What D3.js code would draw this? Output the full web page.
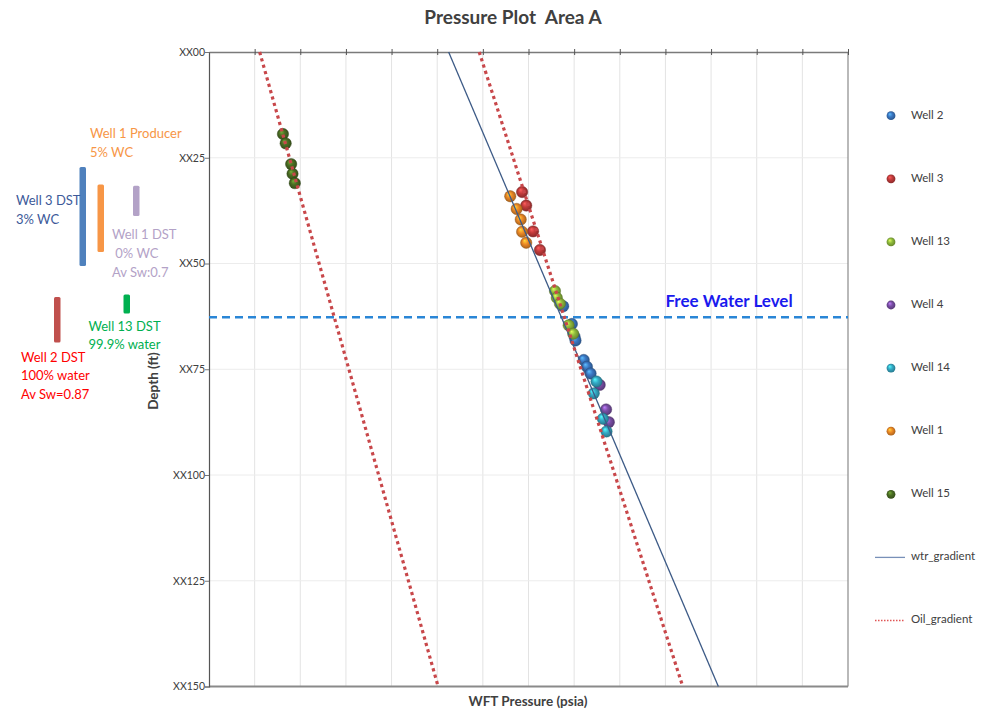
<!DOCTYPE html>
<html lang="en">

<head>
    <meta charset="UTF-8">
    <meta name="viewport" content="width=device-width, initial-scale=1.0">
    <title>Pressure Plot Area A</title>
    <style>
        * {
            margin: 0;
            padding: 0;
        }

        body {
            background: #fff;
        }

        text {
            font-family: Lato, 'Open Sans', sans-serif;
        }
    </style>
</head>

<body>
    <div id="chart"></div>
    <script src="https://cdn.jsdelivr.net/npm/d3@7"></script>
    <script>
        // [pressure, depth] - pressure is relative (no tick labels on the plot), depth in ft below XX00
        const well2 = [[77.6, 60.1], [79.5, 64.3], [80.1, 67.3], [80.3, 68.2], [82.1, 72.8], [82.8, 74.4], [83.6, 76.0]]
        const well3 = [[68.6, 33.1], [69.5, 36.3], [71.0, 42.4], [72.5, 46.8]]
        const well13 = [[75.8, 56.5], [76.2, 58.1], [76.9, 59.5], [78.8, 64.6], [79.8, 66.6]]
        const well4 = [[85.6, 78.7], [87.0, 84.5], [87.6, 87.5]]
        const well14 = [[84.9, 77.9], [84.3, 80.7], [86.3, 86.7], [87.1, 89.7]]
        const well1 = [[66.0, 34.1], [67.4, 37.1], [68.3, 39.6], [68.6, 42.5], [69.5, 45.1]]
        const well15 = [[16.2, 19.4], [16.8, 21.6], [18.0, 26.5], [18.3, 28.8], [18.8, 31.0]]

        const wellNames = ['Well 2', 'Well 3', 'Well 13', 'Well 4', 'Well 14', 'Well 1', 'Well 15']
        const wellData = [well2, well3, well13, well4, well14, well1, well15]

        // gradient lines, [pressure, depth] end points
        const wtrGradient = [[52.5, 0], [111.6, 150]]
        const oilGradientShallow = [[11.1, 0], [50.2, 150]]
        const oilGradientDeep = [[59.2, 0], [103.8, 150]]

        const freeWaterLevel = 62.7

        // DST / production test intervals (depth top, depth bottom)
        const testNames = ['Well 3 DST', 'Well 1 Producer', 'Well 1 DST', 'Well 2 DST', 'Well 13 DST']
        const testTops = [27.2, 31.3, 31.6, 57.9, 57.3]
        const testBottoms = [50.6, 47.3, 38.8, 68.7, 61.8]
        const testNotes = [
            ['Well 3 DST', '3% WC'],
            ['Well 1 Producer', '5% WC'],
            ['Well 1 DST', ' 0% WC', 'Av Sw:0.7'],
            ['Well 2 DST', '100% water', 'Av Sw=0.87'],
            ['Well 13 DST', '99.9% water']
        ]

        const depthTicks = [0, 25, 50, 75, 100, 125, 150]

        function drawChart() {
            const width = 983
            const height = 711
            const margin = {
                top: 52,
                right: 135,
                bottom: 24.5,
                left: 209
            }

            const wellColors = ['#3b78c4', '#c23b3b', '#8fbb3c', '#7a4fa6', '#35aac6', '#ee8a26', '#4b6e23']
            const testColors = ['#4f81bd', '#f79646', '#b3a2c7', '#c0504d', '#00b050']
            const noteColors = ['#3d5a99', '#f79646', '#b3a2c7', '#ff0000', '#00b050']

            const svg = d3.select('#chart')
                .append('svg')
                .attr('width', width)
                .attr('height', height)
                .style('background', '#fff')

            const xScale = d3.scaleLinear()
                .domain([0, 140])
                .range([margin.left, width - margin.right])

            const yScale = d3.scaleLinear()
                .domain([0, 150])
                .range([margin.top, height - margin.bottom])

            // sphere look for the markers
            const defs = svg.append('defs')
            wellColors.forEach((c, i) => {
                const grad = defs.append('radialGradient')
                    .attr('id', `sphere-${i}`)
                    .attr('cx', '50%').attr('cy', '50%').attr('r', '55%')
                    .attr('fx', '35%').attr('fy', '30%')
                grad.append('stop').attr('offset', '0%').attr('stop-color', d3.color(c).brighter(1.3))
                grad.append('stop').attr('offset', '45%').attr('stop-color', c)
                grad.append('stop').attr('offset', '100%').attr('stop-color', d3.color(c).darker(1.1))
            })

            // grid
            const grid = svg.append('g')
            grid.selectAll('line.vgrid')
                .data(d3.range(10, 140, 10))
                .join('line')
                .attr('class', 'vgrid')
                .attr('x1', d => xScale(d))
                .attr('x2', d => xScale(d))
                .attr('y1', yScale(0))
                .attr('y2', yScale(150))
                .attr('stroke', '#e3e3e3')
                .attr('stroke-width', 1)

            grid.selectAll('line.hgrid')
                .data(depthTicks.slice(1, -1))
                .join('line')
                .attr('class', 'hgrid')
                .attr('x1', xScale(0))
                .attr('x2', xScale(140))
                .attr('y1', d => yScale(d))
                .attr('y2', d => yScale(d))
                .attr('stroke', '#ececec')
                .attr('stroke-width', 1)

            // frame: right + bottom border
            svg.append('line')
                .attr('x1', xScale(140)).attr('x2', xScale(140))
                .attr('y1', yScale(0)).attr('y2', yScale(150))
                .attr('stroke', '#8a8a8a').attr('stroke-width', 1.2)
            svg.append('line')
                .attr('x1', xScale(0)).attr('x2', xScale(140))
                .attr('y1', yScale(150)).attr('y2', yScale(150))
                .attr('stroke', '#8a8a8a').attr('stroke-width', 2)

            // depth axis (left)
            const yAxis = svg.append('g')
                .attr('transform', `translate(${margin.left}, 0)`)
                .call(d3.axisLeft(yScale)
                    .tickValues(depthTicks)
                    .tickSize(4)
                    .tickFormat(d => 'XX' + (d < 10 ? '0' + d : d)))
            yAxis.select('.domain').attr('stroke', '#555').attr('stroke-width', 1.2)
            yAxis.selectAll('.tick line').attr('stroke', '#777')
            yAxis.selectAll('.tick text')
                .attr('x', -4)
                .style('font-size', '10.5px')
                .style('font-family', 'Lato, sans-serif')
                .attr('fill', '#404040')

            // pressure axis sits on top (depth reversed), no labels
            const xAxis = svg.append('g')
                .attr('transform', `translate(0, ${margin.top})`)
                .call(d3.axisTop(xScale)
                    .tickValues(d3.range(10, 150, 10))
                    .tickSizeInner(4)
                    .tickSizeOuter(0)
                    .tickFormat(''))
            xAxis.select('.domain').attr('stroke', '#7a7a7a').attr('stroke-width', 1.6)
            xAxis.selectAll('.tick line')
                .attr('y1', 3)
                .attr('y2', -3)
                .attr('stroke', '#555')

            // free water level
            svg.append('line')
                .attr('x1', xScale(0))
                .attr('x2', xScale(140))
                .attr('y1', yScale(freeWaterLevel))
                .attr('y2', yScale(freeWaterLevel))
                .attr('stroke', '#2a86d6')
                .attr('stroke-width', 2.4)
                .attr('stroke-dasharray', '8,5')

            svg.append('text')
                .attr('x', xScale(100))
                .attr('y', yScale(freeWaterLevel) - 15)
                .attr('dominant-baseline', 'middle')
                .text('Free Water Level')
                .style('font-size', '17px')
                .style('font-weight', 700)
                .attr('fill', '#1a1aee')

            // pressure points
            const points = svg.append('g')
            wellData.forEach((pts, i) => {
                points.append('g')
                    .selectAll('circle')
                    .data(pts)
                    .join('circle')
                    .attr('cx', d => xScale(d[0]))
                    .attr('cy', d => yScale(d[1]))
                    .attr('r', 5.7)
                    .attr('fill', `url(#sphere-${i})`)
                    .attr('stroke', d3.color(wellColors[i]).darker(1.5))
                    .attr('stroke-width', 0.4)
            })

            // gradients
            const line = d3.line()
                .x(d => xScale(d[0]))
                .y(d => yScale(d[1]))

            svg.append('path')
                .datum(wtrGradient)
                .attr('d', line)
                .attr('fill', 'none')
                .attr('stroke', '#3c5a86')
                .attr('stroke-width', 1.3)

            svg.selectAll('path.oil')
                .data([oilGradientShallow, oilGradientDeep])
                .join('path')
                .attr('class', 'oil')
                .attr('d', line)
                .attr('fill', 'none')
                .attr('stroke', '#c8474a')
                .attr('stroke-width', 3.2)
                .attr('stroke-dasharray', '3.2,3.4')

            // test intervals on the left
            const barX = [79.5, 97.5, 133, 54, 123.5]
            const bars = svg.append('g')
            bars.selectAll('rect')
                .data(testNames)
                .join('rect')
                .attr('x', (d, i) => barX[i])
                .attr('y', (d, i) => yScale(testTops[i]))
                .attr('width', 6.5)
                .attr('height', (d, i) => yScale(testBottoms[i]) - yScale(testTops[i]))
                .attr('rx', 1.5)
                .attr('fill', (d, i) => testColors[i])

            const noteX = [16, 90, 112, 21, 88.5]
            const noteY = [202, 135, 236, 358.5, 327.5]
            const lineGap = 18.8
            testNotes.forEach((lines, i) => {
                svg.append('text')
                    .attr('x', noteX[i])
                    .attr('y', noteY[i])
                    .attr('fill', noteColors[i])
                    .style('font-size', '13px')
                    .attr('dominant-baseline', 'middle')
                    .selectAll('tspan')
                    .data(lines)
                    .join('tspan')
                    .attr('x', noteX[i])
                    .attr('dy', (d, j) => j === 0 ? 0 : lineGap)
                    .style('white-space', 'pre')
                    .text(d => d)
            })

            // titles
            svg.append('text')
                .attr('x', 513)
                .attr('y', 19)
                .attr('text-anchor', 'middle')
                .attr('dominant-baseline', 'middle')
                .style('white-space', 'pre')
                .text('Pressure Plot  Area A')
                .style('font-size', '19px')
                .style('font-weight', 700)
                .attr('fill', '#404040')

            svg.append('text')
                .attr('x', 528)
                .attr('y', 703)
                .attr('text-anchor', 'middle')
                .attr('dominant-baseline', 'middle')
                .text('WFT Pressure (psia)')
                .style('font-size', '13.5px')
                .style('font-weight', 700)
                .attr('fill', '#404040')

            svg.append('text')
                .attr('transform', 'translate(155, 381) rotate(-90)')
                .attr('text-anchor', 'middle')
                .attr('dominant-baseline', 'middle')
                .text('Depth (ft)')
                .style('font-size', '13.5px')
                .style('font-weight', 700)
                .attr('fill', '#404040')

            // legend
            const legendTop = 115.7
            const legendStep = 63.1
            const legend = svg.append('g')
                .attr('transform', `translate(891, ${legendTop})`)

            legend.selectAll('circle')
                .data(wellNames)
                .join('circle')
                .attr('cx', 0)
                .attr('cy', (d, i) => i * legendStep)
                .attr('r', 4.4)
                .attr('fill', (d, i) => `url(#sphere-${i})`)

            const legendNames = wellNames.concat(['wtr_gradient', 'Oil_gradient'])
            legend.selectAll('text')
                .data(legendNames)
                .join('text')
                .attr('x', 20)
                .attr('y', (d, i) => i * legendStep)
                .attr('dominant-baseline', 'middle')
                .text(d => d)
                .style('font-size', '11.5px')
                .attr('fill', '#404040')

            legend.append('line')
                .attr('x1', -16).attr('x2', 14)
                .attr('y1', 7 * legendStep).attr('y2', 7 * legendStep)
                .attr('stroke', '#7890b8')
                .attr('stroke-width', 1.3)

            legend.append('line')
                .attr('x1', -16).attr('x2', 14)
                .attr('y1', 8 * legendStep).attr('y2', 8 * legendStep)
                .attr('stroke', '#e05555')
                .attr('stroke-width', 1.5)
                .attr('stroke-dasharray', '1.5,1.5')
        }

        drawChart()
    </script>
</body>

</html>
